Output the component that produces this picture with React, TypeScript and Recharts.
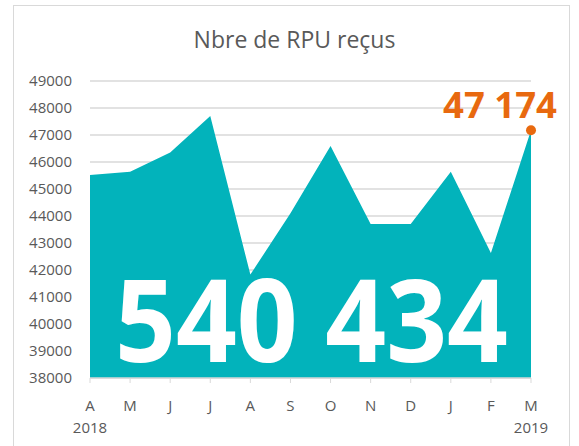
import { AreaChart, Area, XAxis, YAxis, CartesianGrid } from "recharts";

const MONTHS = ["A", "M", "J", "J", "A", "S", "O", "N", "D", "J", "F", "M"];
const YEARS = ["2018", "", "", "", "", "", "", "", "", "", "", "2019"];
const RPU = [45520, 45640, 46350, 47700, 41830, 44100, 46590, 43700, 43700, 45640, 42630, 47174];
const Y_TICKS = [38000, 39000, 40000, 41000, 42000, 43000, 44000, 45000, 46000, 47000, 48000, 49000];
const TITLE = "Nbre de RPU reçus";
const TOTAL_LABEL = "540 434";
const LAST_LABEL = "47 174";

const TEAL = "#02b3bb";
const ORANGE = "#e8690f";
const GREY_TEXT = "#595959";
const GRID = "#d9d9d9";
const FONT = "'Open Sans', sans-serif";

const data = MONTHS.map((m, i) => ({ idx: i, month: m, year: YEARS[i], value: RPU[i] }));

function MonthTick(props: any) {
  const { x, y, payload } = props;
  const i = payload.value as number;
  return (
    <g>
      <text x={x} y={y + 26} textAnchor="middle" fontSize={15} fill={GREY_TEXT} fontFamily={FONT}>
        {MONTHS[i]}
      </text>
      {YEARS[i] && (
        <text x={x} y={y + 48} textAnchor="middle" fontSize={15} fill={GREY_TEXT} fontFamily={FONT}>
          {YEARS[i]}
        </text>
      )}
    </g>
  );
}

function LastDot(props: any) {
  const { cx, cy, index } = props;
  if (index !== RPU.length - 1) return <g key={`d-${index}`} />;
  return (
    <g key={`d-${index}`}>
      <circle cx={cx} cy={cy} r={5} fill={ORANGE} />
      <text
        x={cx - 31}
        y={cy - 12.5}
        textAnchor="middle"
        fontSize={36.5}
        fontWeight={700}
        fill={ORANGE}
        fontFamily={FONT}
      >
        {LAST_LABEL}
      </text>
    </g>
  );
}

export default function App() {
  return (
    <div style={{ position: "absolute", left: 0, top: 0, width: 579, height: 446, background: "#fff", overflow: "hidden" }}>
      <div
        style={{
          position: "absolute",
          left: 13,
          top: 5,
          width: 557,
          height: 460,
          border: `1px solid ${GRID}`,
          boxSizing: "border-box",
        }}
      />
      <div style={{ position: "absolute", left: 0, top: 0 }}>
        <AreaChart width={579} height={446} data={data} margin={{ top: 81, right: 48, left: 12, bottom: 28 }}>
          <CartesianGrid vertical={false} stroke={GRID} strokeWidth={1.5} />
          <XAxis
            dataKey="idx"
            type="category"
            tick={<MonthTick />}
            tickLine={{ stroke: GRID }}
            axisLine={{ stroke: GRID, strokeWidth: 1.5 }}
            tickSize={5}
            tickMargin={2}
            height={40}
            interval={0}
          />
          <YAxis
            domain={[38000, 49000]}
            ticks={Y_TICKS}
            width={78}
            axisLine={false}
            tickLine={false}
            tickSize={0}
            tickMargin={18}
            tick={{ fontSize: 15, fill: GREY_TEXT, fontFamily: FONT }}
            allowDataOverflow
          />
          <Area
            type="linear"
            dataKey="value"
            stroke="none"
            fill={TEAL}
            fillOpacity={1}
            isAnimationActive={false}
            dot={<LastDot />}
            activeDot={false}
          />
        </AreaChart>
      </div>
      <svg width={579} height={446} style={{ position: "absolute", left: 0, top: 0, pointerEvents: "none" }}>
        <text x={294.5} y={48} textAnchor="middle" fontSize={23} fill={GREY_TEXT} fontFamily={FONT}>
          {TITLE}
        </text>
        <text
          x={115}
          y={362}
          fontSize={115}
          fontWeight={700}
          fill="#fff"
          fontFamily={FONT}
          textLength={393}
          lengthAdjust="spacingAndGlyphs"
        >
          {TOTAL_LABEL}
        </text>
      </svg>
    </div>
  );
}
